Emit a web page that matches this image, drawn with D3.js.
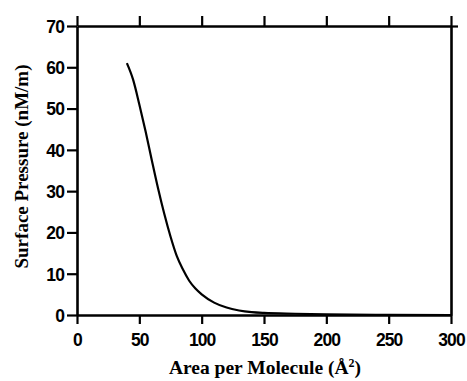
<!DOCTYPE html>
<html>
<head>
<meta charset="utf-8">
<script src="https://cdn.jsdelivr.net/npm/d3@7"></script>
<style>
  body { margin: 0; background: #fff; }
</style>
</head>
<body>
<div id="chart"></div>
<script>
// isotherm data
var area = [40, 45, 50, 55, 60, 65, 70, 75, 80, 85, 90, 95, 100, 110, 120, 130, 140, 150, 175, 200, 250, 300];
var pressure = [61, 57, 51, 44.5, 37.5, 30.7, 24.5, 19, 14.3, 11, 8.3, 6.4, 5, 3, 1.8, 1.1, 0.7, 0.5, 0.3, 0.15, 0.05, 0];
var xTicks = [0, 50, 100, 150, 200, 250, 300];
var yTicks = [0, 10, 20, 30, 40, 50, 60, 70];

drawchart()

function drawchart() {
	var W = 467, H = 381;
	var margin = { top: 26, right: 16, bottom: 66, left: 77 };
	var width = W - margin.left - margin.right;
	var height = H - margin.top - margin.bottom;

	var svg = d3.select("#chart")
		.append("svg")
		.attr("width", W)
		.attr("height", H);
	var g = svg.append("g")
		.attr("transform", `translate(${margin.left},${margin.top})`);

	var x = d3.scaleLinear().domain([0, 300]).range([0, width]);
	var y = d3.scaleLinear().domain([0, 70]).range([height, 0]);

	// axes
	var bottom = g.append("g")
		.attr("transform", `translate(0,${height})`)
		.call(d3.axisBottom(x).tickValues(xTicks).tickSize(9).tickSizeOuter(0));
	var top = g.append("g")
		.call(d3.axisTop(x).tickValues(xTicks).tickSize(10).tickSizeOuter(0).tickFormat(""));
	var left = g.append("g")
		.call(d3.axisLeft(y).tickValues(yTicks).tickSize(10).tickSizeOuter(0));
	var right = g.append("g")
		.attr("transform", `translate(${width},0)`)
		.call(d3.axisRight(y).tickValues([70]).tickSize(7).tickSizeOuter(0).tickFormat(""));

	[bottom, top, left, right].forEach(function(a) {
		a.select(".domain").attr("stroke", "#000").attr("stroke-width", 2.6);
		a.selectAll(".tick line").attr("stroke", "#000").attr("stroke-width", 2.2);
		a.selectAll(".tick text")
			.attr("fill", "#000")
			.style("font-family", "Liberation Sans, Arial")
			.style("font-weight", "bold")
			.style("font-size", "17.5px")
			.style("letter-spacing", "-0.9px");
	});
	bottom.selectAll(".tick text").attr("y", 31).attr("dy", 0);
	left.selectAll(".tick text").attr("x", -13).attr("dy", "0.36em");

	// curve
	var line = d3.line()
		.x(function(d, i) { return x(area[i]); })
		.y(function(d) { return y(d); })
		.curve(d3.curveMonotoneX);
	g.append("path")
		.datum(pressure)
		.attr("d", line)
		.attr("fill", "none")
		.attr("stroke", "#000")
		.attr("stroke-width", 2.2);

	// axis titles
	var xt = svg.append("text")
		.attr("x", margin.left + width / 2 + 1)
		.attr("y", 374)
		.attr("text-anchor", "middle")
		.style("font-family", "Liberation Serif, Times New Roman")
		.style("font-weight", "bold")
		.style("font-size", "19.5px");
	xt.append("tspan").text("Area per Molecule (Å");
	xt.append("tspan").text("2").attr("dy", -7).style("font-size", "12px");
	xt.append("tspan").text(")").attr("dy", 7);

	svg.append("text")
		.attr("transform", `translate(28,${margin.top + height / 2 - 4}) rotate(-90)`)
		.attr("text-anchor", "middle")
		.style("font-family", "Liberation Serif, Times New Roman")
		.style("font-weight", "bold")
		.style("font-size", "19px")
		.text("Surface Pressure (nM/m)");
}
</script>
</body>
</html>
